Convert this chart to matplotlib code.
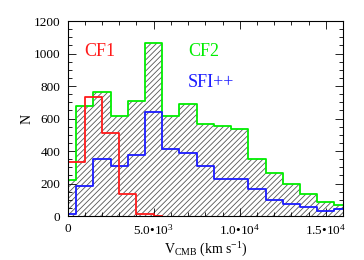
import matplotlib
matplotlib.use("Agg")
import matplotlib.pyplot as plt
import numpy as np
from matplotlib.ticker import MultipleLocator, FixedLocator

plt.rcParams['font.family'] = ['Liberation Serif', 'DejaVu Serif']
plt.rcParams['mathtext.fontset'] = 'custom'
plt.rcParams['mathtext.rm'] = 'Liberation Serif'
plt.rcParams['mathtext.it'] = 'Liberation Serif:italic'
plt.rcParams['hatch.linewidth'] = 0.6

# Bin centres (km/s) and counts
cf2_centers = [0, 1000, 2000, 3000, 4000, 5000, 6000, 7000, 8000, 9000,
               10000, 11000, 12000, 13000, 14000, 15000, 16000]
cf2_counts = [222, 677, 765, 618, 710, 1065, 618, 692, 569, 552,
              538, 353, 265, 199, 137, 86, 68]

sfi_centers = cf2_centers
sfi_counts = [10, 185, 353, 308, 377, 638, 415, 386, 306, 230,
              226, 166, 98, 76, 57, 32, 41]

cf1_centers = [-500, 500, 1500, 2500, 3500, 4500, 5500]
cf1_counts = [123, 332, 734, 512, 134, 14, 0]

labels = ["CF1", "CF2", "SFI++"]
colors = ["#ff1a1a", "#00ee00", "#1a1aff"]

xticks = [0, 5000, 10000, 15000]
xticklabels = ["0", "5.0\u202210$^3$", "1.0\u202210$^4$", "1.5\u202210$^4$"]
yticks = [0, 200, 400, 600, 800, 1000, 1200]

fig = plt.figure(figsize=(3.64, 2.60), dpi=100)
ax = fig.add_axes([0.1855, 0.169, 0.757, 0.750])

ax.fill_between(cf2_centers, cf2_counts, step='mid', facecolor='none',
                edgecolor='#555555', hatch='//////', linewidth=0)
ax.step(cf2_centers, cf2_counts, where='mid', color=colors[1], lw=1.3)
ax.step(sfi_centers, sfi_counts, where='mid', color=colors[2], lw=1.3)
ax.step(cf1_centers, cf1_counts, where='mid', color=colors[0], lw=1.3)

ax.set_xlim(0, 16000)
ax.set_ylim(0, 1200)
ax.xaxis.set_major_locator(FixedLocator(xticks))
ax.set_xticklabels(xticklabels)
ax.xaxis.set_minor_locator(MultipleLocator(1000))
ax.yaxis.set_major_locator(FixedLocator(yticks))
ax.yaxis.set_minor_locator(MultipleLocator(50))
ax.tick_params(which='both', direction='in', top=True, right=True, labelsize=9.5, width=0.6)
ax.tick_params(which='major', length=6, pad=5)
ax.tick_params(which='minor', length=3)
for s in ax.spines.values():
    s.set_linewidth(0.8)

ax.text(1000, 1010, labels[0], color=colors[0], fontsize=13, va='center')
ax.text(7000, 1010, labels[1], color=colors[1], fontsize=13, va='center')
ax.text(7000, 820, labels[2], color=colors[2], fontsize=13, va='center')

ax.set_xlabel(r"V$_{\rm CMB}$ (km s$^{-1}$)", fontsize=10, labelpad=2)
ax.set_ylabel("N", fontsize=10, labelpad=0)

fig.savefig("out.png", dpi=100)
